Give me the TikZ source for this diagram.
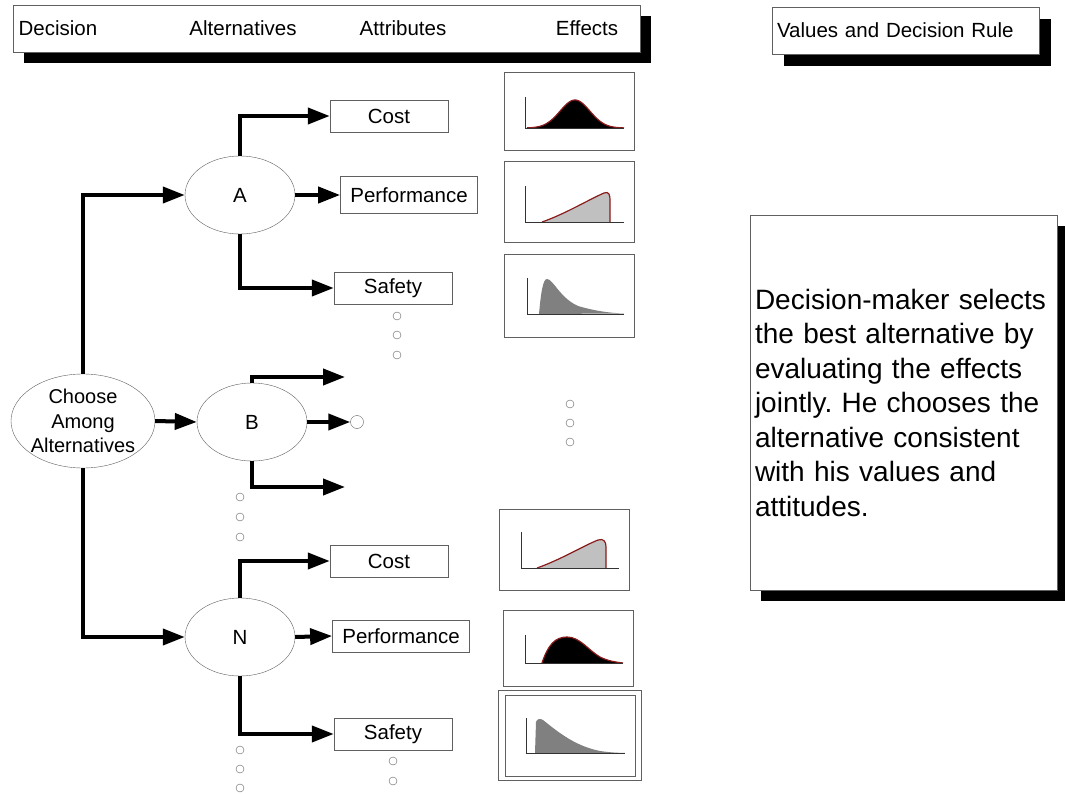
\documentclass[tikz,border=0pt]{standalone}
\usepackage{fontspec}
\setmainfont{Liberation Sans}
\usetikzlibrary{arrows.meta,shapes.geometric,shadows}

\definecolor{lgray}{HTML}{C0C0C0}
\definecolor{dgray}{HTML}{808080}
\definecolor{rim}{HTML}{8B1A1A}
\definecolor{frame}{HTML}{606060}

\frenchspacing

\begin{document}
\begin{tikzpicture}[x=1pt, y=-1pt, font=\fontsize{20.5}{24.5}\selectfont,
    conn/.style={line width=4pt, -{Triangle[length=22pt, width=16pt]}},
    panel/.style={draw=frame, fill=white, inner sep=0pt,
      drop shadow={shadow xshift=#1, shadow yshift=-#1, opacity=1, fill=black}},
    panel/.default=11pt,
    alt/.style={ellipse, draw=frame, fill=white, minimum width=110pt, minimum height=78pt, inner sep=0pt},
    attr/.style={draw=frame, fill=white, minimum width=118pt, minimum height=32pt, inner xsep=10pt, inner ysep=0pt},
    fx/.style={draw=frame, line width=1pt, fill=white, minimum width=130pt, minimum height=78pt},
    axis/.style={line width=0.8pt, black!80},
    dot/.style={circle, draw=frame, fill=white, minimum size=8pt, inner sep=0pt}]

  \useasboundingbox (0,0) rectangle (1065,794);

  % ---------------- headings ----------------
  \node[panel, minimum width=627pt, minimum height=47pt] (hdr) at (326.5,28.5) {};
  \node (hdec) at (58,28) {Decision};
  \node (halt) at (243,28) {Alternatives};
  \node (hatt) at (403,28) {Attributes};
  \node (heff) at (587,28) {Effects};
  \node[panel=12pt, minimum width=267pt, minimum height=47pt, text width=257pt, inner xsep=5pt, align=left] (hval) at (905.5,30.5) {Values and Decision Rule};

  % ---------------- decision and alternatives ----------------
  \node[alt, minimum width=144pt, minimum height=94pt, inner sep=-5pt, align=center,
    font=\fontsize{20}{24.5}\selectfont] (choose) at (83,421) {Choose\\Among\\Alternatives};
  \node[alt] (A) at (240,195) {A};
  \node[alt] (B) at (252,422) {B};
  \node[alt] (N) at (240,637) {N};
  \draw[conn] (choose.north) |- (A.west);
  \draw[conn] (choose.east) -- (B.west);
  \draw[conn] (choose.south) |- (N.west);

  % ---------------- attributes ----------------
  \node[attr] (costA) at (389,116) {Cost};
  \node[attr, minimum height=37pt] (perfA) at (409,195) {Performance};
  \node[attr] (safeA) at (393,288) {Safety};
  \draw[conn] (A.north) |- (costA.west);
  \draw[conn] (A.east) -- (perfA.west);
  \draw[conn] (A.south) |- (safeA.west);

  \coordinate (bup) at (345,377);
  \coordinate (bdn) at (345,487);
  \node[circle, draw=frame, fill=white, minimum size=13pt, inner sep=0pt] (bend) at (357,422) {};
  \draw[conn] (B.north) |- (bup);
  \draw[conn] (B.east) -- (bend.west);
  \draw[conn] (B.south) |- (bdn);

  \node[attr] (costN) at (389,561) {Cost};
  \node[attr] (perfN) at (401,636) {Performance};
  \node[attr] (safeN) at (393,734) {Safety};
  \draw[conn] (N.north) |- (costN.west);
  \draw[conn] (N.east) -- (perfN.west);
  \draw[conn] (N.south) |- (safeN.west);

  % continuation dots
  \foreach \y [count=\i] in {316,335,355} \node[dot] (da\i) at (397,\y) {};
  \foreach \y [count=\i] in {497,517,537} \node[dot] (db\i) at (240,\y) {};
  \foreach \y [count=\i] in {404,423,442} \node[dot] (de\i) at (570,\y) {};
  \foreach \y [count=\i] in {750,769,788} \node[dot] (dn\i) at (240,\y) {};
  \foreach \y [count=\i] in {761,781} \node[dot] (ds\i) at (393,\y) {};

  % ---------------- effects ----------------
  \node[fx] (e1) at (569,112) {};
  \fill[black] plot[domain=527:624, samples=60] (\x, {128-28*exp(-((\x-575)/21)^2)}) -- cycle;
  \draw[rim, line width=1.2pt] plot[domain=527:624, samples=60] (\x, {128-28*exp(-((\x-575)/21)^2)});
  \draw[axis] (525,97) -- (525,128) -- (624,128);

  \node[fx, minimum height=81pt] (e2) at (569,202.5) {};
  \fill[lgray] (542,222) .. controls (565,214) and (588,200) .. (604,193) .. controls (609,191) and (610,195) .. (610,200) -- (610,222) -- cycle;
  \draw[rim, line width=1.2pt] (542,222) .. controls (565,214) and (588,200) .. (604,193) .. controls (609,191) and (610,195) .. (610,200) -- (610,222);
  \draw[axis] (525,186) -- (525,222) -- (624,222);

  \node[fx, minimum height=82pt] (e3) at (569,296) {};
  \fill[dgray] (539,314) .. controls (541,292) and (543,279) .. (547,279) .. controls (553,279) and (560,298) .. (578,306) .. controls (595,311) and (610,313) .. (624,313.5) -- cycle;
  \draw[axis] (527,278) -- (527,314) -- (624,314);

  \node[fx, minimum height=81pt] (e4) at (564,549.5) {};
  \fill[lgray] (537,568) .. controls (560,560) and (583,546) .. (598,540) .. controls (604,538) and (606,542) .. (606,547) -- (606,568) -- cycle;
  \draw[rim, line width=1.2pt] (537,568) .. controls (560,560) and (583,546) .. (598,540) .. controls (604,538) and (606,542) .. (606,547) -- (606,568);
  \draw[axis] (521,532) -- (521,568) -- (619,568);

  \node[fx, minimum height=76pt] (e5) at (568,648) {};
  \fill[black] (542,663) .. controls (548,645) and (555,637) .. (567,637) .. controls (580,637) and (588,650) .. (600,657) .. controls (608,661) and (615,662) .. (623,663) -- cycle;
  \draw[rim, line width=1.2pt] (542,663) .. controls (548,645) and (555,637) .. (567,637) .. controls (580,637) and (588,650) .. (600,657) .. controls (608,661) and (615,662) .. (623,663);
  \draw[axis] (525,635) -- (525,663) -- (623,663);

  \node[fx, minimum height=81pt] (e6) at (570,735.5) {};
  \draw[frame, line width=1pt] ([shift={(-6,4)}]e6.south west) rectangle ([shift={(6,-4)}]e6.north east);
  \fill[dgray] (535,753) -- (536,722) .. controls (537,719) and (540,718) .. (543,720) .. controls (558,732) and (575,746) .. (600,751) .. controls (610,752.5) and (618,752.8) .. (625,753) -- cycle;
  \draw[axis] (526,718) -- (526,753) -- (625,753);

  % ---------------- values and decision rule ----------------
  \node[panel, minimum width=307pt, minimum height=375pt, text width=297pt, inner xsep=5pt, align=left,
    font=\fontsize{28}{34.5}\selectfont] (rule) at (903.5,402.5)
    {Decision-maker selects\\the best alternative by\\evaluating the effects\\jointly. He chooses the\\alternative consistent\\with his values and\\attitudes.};
\end{tikzpicture}
\end{document}
